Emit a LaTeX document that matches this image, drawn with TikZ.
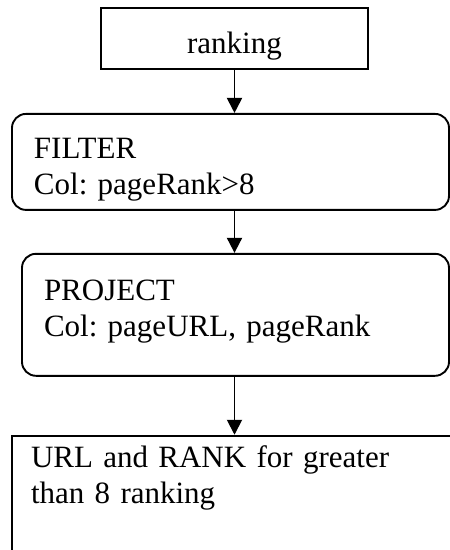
\documentclass[tikz,border=0pt]{standalone}
\usepackage{fontspec}
\setmainfont{Liberation Serif}
\usetikzlibrary{arrows.meta, positioning}
\frenchspacing
\begin{document}
\begin{tikzpicture}[x=1pt, y=1pt,
                tablebox/.style={draw, line width=1.9pt, minimum width=267pt, inner ysep=4pt,
                                 text height=41pt, text depth=12pt, align=center,
                                 font=\fontsize{31}{36}\selectfont},
                opbox/.style={draw, line width=1.9pt, rounded corners=14pt, align=left,
                              inner xsep=22pt, inner ysep=8pt, font=\fontsize{31}{36}\selectfont},
                resultbox/.style={draw, line width=1.9pt, align=left, inner xsep=19pt,
                                  inner ysep=8pt, font=\fontsize{31}{36}\selectfont},
                flow/.style={-{Triangle[length=15pt, width=15pt]}, line width=1.9pt}]

                \useasboundingbox (0,0) rectangle (450,-550);
                \clip (0,0) rectangle (450,-550);

                % Query plan - top to bottom
                \node[tablebox] (ranking) at (234.5,-38.5) {ranking};
                \node[opbox, text width=393pt, text height=37pt, text depth=43pt,
                      below=43pt of ranking, xshift=-4pt] (filter) {FILTER\\Col: pageRank>8};
                \node[opbox, text width=383pt, text height=39pt, text depth=67pt,
                      below=42pt of filter, xshift=5pt] (project) {PROJECT\\Col: pageURL, pageRank};
                \node[resultbox, text width=420pt, text height=24pt, text depth=120pt,
                      below=58pt of project, xshift=5.5pt] (result) {URL and RANK for greater\\than 8 ranking};

                % Data flow arrows
                \draw[flow] (ranking.south) -- (ranking.south |- filter.north);
                \draw[flow] (ranking.south |- filter.south) -- (ranking.south |- project.north);
                \draw[flow] (ranking.south |- project.south) -- (ranking.south |- result.north);
            \end{tikzpicture}
\end{document}
